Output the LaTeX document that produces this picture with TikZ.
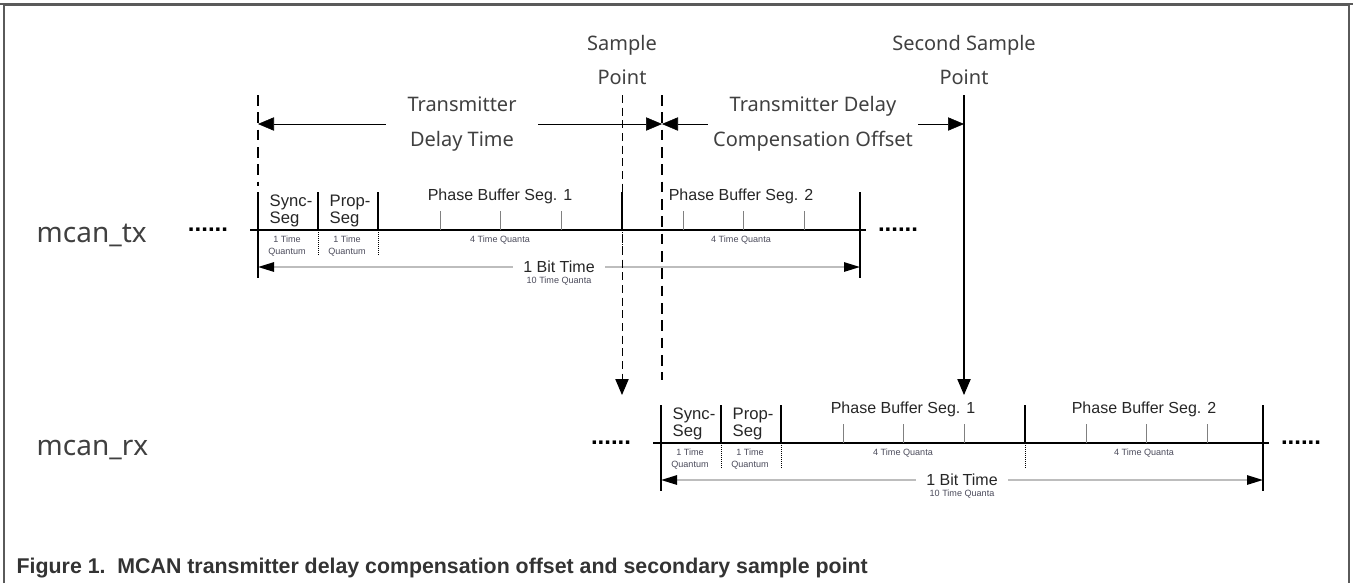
\documentclass[tikz,border=0pt]{standalone}
\usepackage{fontspec}
\setmainfont{Liberation Sans}
\newfontfamily\labelfont{Noto Sans}
\usetikzlibrary{arrows.meta}

\definecolor{framegray}{HTML}{5A5A5A}
\definecolor{bitgray}{HTML}{BDBDBD}
\definecolor{quantagray}{HTML}{4A4A5A}

\begin{document}
\begin{tikzpicture}[
    x=0.75pt, y=-0.75pt,
    frame/.style={draw=framegray, line width=1.5pt},
    seg/.style={line width=1.3pt},
    bitline/.style={line width=1.3pt},
    qtick/.style={line width=0.5pt, gray},
    qdot/.style={line width=0.5pt, densely dotted},
    bigtip/.style={-{Triangle[length=12pt, width=10pt]}},
    bittime/.style={draw=bitgray, line width=1.3pt,
      {Triangle[black, length=12pt, width=7pt]}-{Triangle[black, length=12pt, width=7pt]}},
    thickdash/.style={line width=2pt, dash pattern=on 8pt off 5pt},
    thindash/.style={line width=0.7pt, dash pattern=on 6pt off 3.5pt},
    biglabel/.style={font=\labelfont\fontsize{15}{26}\selectfont, align=center, text=black!75},
    signame/.style={font=\labelfont\fontsize{21}{21}\selectfont, text=black!75, anchor=base west},
    segname/.style={font=\fontsize{12}{13}\selectfont, align=center, text=black!85},
    cellname/.style={font=\fontsize{12.5}{12.5}\selectfont, align=left, anchor=west, text=black!85},
    quanta/.style={font=\fontsize{6.8}{8.4}\selectfont, align=center, text=quantagray},
    dots/.style={font=\bfseries\fontsize{18}{18}\selectfont}
]
  \useasboundingbox (0,0) rectangle (1353,583);

  % frame
  \draw[frame] (4,583) -- (4,5) -- (1349,5) -- (1349,583);
  \draw[draw=framegray, line width=2.2pt] (0,4) -- (1353,4);

  % signal names
  \node[signame] (tx) at (32,242) {mcan\_tx};
  \node[signame] (rx) at (32,455) {mcan\_rx};

  % bit timing of tx, then the same shifted for rx
  \foreach \dx/\dy/\r in {0/0/tx, 403/213/rx} {
    \begin{scope}[shift={(\dx,\dy)}]
      \draw[bitline] (250,230) -- (866,230);
      \draw[seg] (258,192) -- (258,278);
      \draw[seg] (318,192) -- (318,230);
      \draw[seg] (378,192) -- (378,230);
      \draw[seg] (622,192) -- (622,230);
      \draw[seg] (860,192) -- (860,278);
      \foreach \x in {318,378,622} \draw[qdot] (\x,230) -- (\x,255);
      \foreach \x in {440,500,561,683,743,804} \draw[qtick] (\x,211) -- (\x,230);

      \node[cellname] (sync\r) at (265,211) {Sync-\\Seg};
      \node[cellname] (prop\r) at (325,211) {Prop-\\Seg};
      \node[segname] (pbone\r) at (500,196) {Phase Buffer Seg. 1};
      \node[segname] (pbtwo\r) at (741,196) {Phase Buffer Seg. 2};
      \node[quanta] (qsync\r) at (287,246) {1 Time\\Quantum};
      \node[quanta] (qprop\r) at (347,246) {1 Time\\Quantum};
      \node[quanta] (qone\r) at (500,240) {4 Time Quanta};
      \node[quanta] (qtwo\r) at (741,240) {4 Time Quanta};

      % 1 bit time
      \coordinate (bitL\r) at (258,267);
      \coordinate (bitR\r) at (860,267);
      \draw[bittime] (bitL\r) -- (bitR\r)
        node[midway, fill=white, inner xsep=8pt, inner ysep=1pt, segname] (bit\r) {1 Bit Time};
      \node[quanta] (bitq\r) at (559,281) {10 Time Quanta};

      \node[dots] (ldots\r) at (208,230) {......};
      \node[dots] (rdots\r) at (898,230) {......};
    \end{scope}
  }

  % labels on top
  \node[biglabel] (sp) at (622,60) {Sample\\Point};
  \node[biglabel] (ssp) at (964,60) {Second Sample\\Point};
  \node[biglabel, inner xsep=16pt] (tdt) at (462,124) {Transmitter\\Delay Time};
  \node[biglabel, inner xsep=4pt] (tdco) at (813,124) {Transmitter Delay\\Compensation Offset};

  \coordinate (txStart) at (258,124);
  \coordinate (rxStart) at (662,124);
  \coordinate (sspMid) at (964,124);

  \draw[bigtip] (tdt) -- (txStart);
  \draw[bigtip] (tdt) -- (rxStart);
  \draw[bigtip] (tdco) -- (rxStart);
  \draw[bigtip] (tdco) -- (sspMid);

  % vertical markers
  \coordinate (tdTop) at (258,95);
  \coordinate (tdBot) at (258,186);
  \coordinate (spTop) at (622,95);
  \coordinate (spRx) at (622,395);
  \coordinate (tdcTop) at (662,95);
  \coordinate (tdcBot) at (662,380);
  \coordinate (sspTop) at (964,95);
  \coordinate (sspRx) at (964,395);

  \draw[thickdash] (tdTop) -- (tdBot);
  \draw[thindash, bigtip] (spTop) -- (spRx);
  \draw[thickdash] (tdcTop) -- (tdcBot);
  \draw[bigtip, line width=0.8pt] (sspTop) -- (sspRx);

  % caption
  \node[anchor=west, font=\bfseries\fontsize{16}{16}\selectfont, text=black!80] (cap) at (12,568)
    {Figure 1.\ \ MCAN transmitter delay compensation offset and secondary sample point};
\end{tikzpicture}
\end{document}
